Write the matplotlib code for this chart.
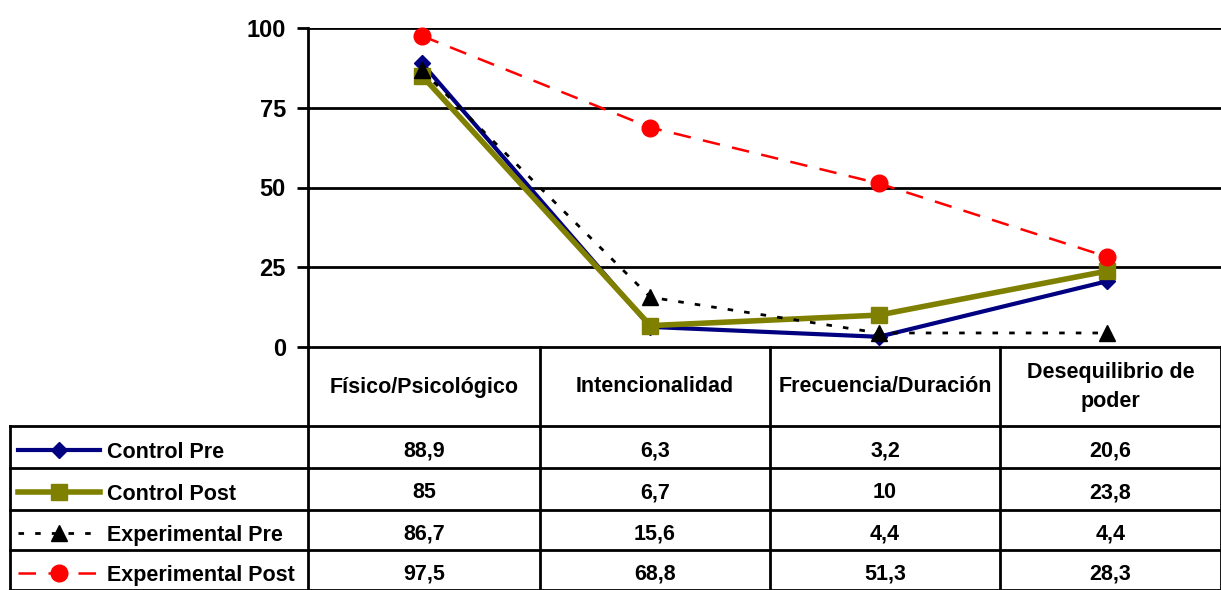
import matplotlib
matplotlib.use("Agg")
import matplotlib.pyplot as plt
from matplotlib.lines import Line2D

plt.rcParams['font.family'] = ['Liberation Sans', 'DejaVu Sans']
plt.rcParams['font.weight'] = 'bold'

categories = ["Físico/Psicológico", "Intencionalidad", "Frecuencia/Duración", "Desequilibrio de\npoder"]
series_names = ["Control Pre", "Control Post", "Experimental Pre", "Experimental Post"]
control_pre = [88.9, 6.3, 3.2, 20.6]
control_post = [85, 6.7, 10, 23.8]
experimental_pre = [86.7, 15.6, 4.4, 4.4]
experimental_post = [97.5, 68.8, 51.3, 28.3]
value_labels = [
    ["88,9", "6,3", "3,2", "20,6"],
    ["85", "6,7", "10", "23,8"],
    ["86,7", "15,6", "4,4", "4,4"],
    ["97,5", "68,8", "51,3", "28,3"],
]
yticks = [0, 25, 50, 75, 100]

styles = [
    dict(color="#000080", lw=3, ls="-", marker="D", ms=8),
    dict(color="#808000", lw=4, ls="-", marker="s", ms=12),
    dict(color="black", lw=2, ls=(0, (2, 4)), marker="^", ms=12),
    dict(color="#ff0000", lw=1.8, ls=(0, (7, 5)), marker="o", ms=12),
]

W, H = 1221, 590
fig = plt.figure(figsize=(W / 100, H / 100), dpi=100)

ax_left, ax_right = 308, 1221
ax_top, ax_bot = 28, 347
ax = fig.add_axes([ax_left / W, 1 - ax_bot / H, (ax_right - ax_left) / W, (ax_bot - ax_top) / H])
ax.set_xlim(-0.5, 3.5)
ax.set_ylim(0, 100)
x = list(range(len(categories)))
data = [control_pre, control_post, experimental_pre, experimental_post]
for vals, st in zip(data, styles):
    ax.plot(x, vals, color=st["color"], lw=st["lw"], ls=st["ls"], marker=st["marker"],
            ms=st["ms"], mfc=st["color"], mec=st["color"], clip_on=False, zorder=3)
ax.set_yticks(yticks)
ax.set_yticklabels([str(t) for t in yticks], fontsize=17, fontweight="bold")
ax.set_xticks([])
for t in yticks[1:]:
    ax.axhline(t, color="black", lw=2, zorder=1)
for s in ["top", "right"]:
    ax.spines[s].set_visible(False)
ax.spines["left"].set_linewidth(2)
ax.spines["bottom"].set_linewidth(2)
ax.tick_params(axis="y", length=8, width=2, pad=8)

def fx(px):
    return px / W

def fy(py):
    return 1 - py / H

col_edges = [308, 540, 770, 1000, 1221]
row_edges = [347, 426, 468, 510, 550, 590]
lw = 2
for cx in col_edges:
    fig.add_artist(Line2D([fx(cx), fx(cx)], [fy(347), fy(590)], color="black", lw=lw))
fig.add_artist(Line2D([fx(10), fx(10)], [fy(426), fy(590)], color="black", lw=lw))
for ry in row_edges[1:]:
    fig.add_artist(Line2D([fx(10), fx(1221)], [fy(ry), fy(ry)], color="black", lw=lw))

fs = 15.5
for i, c in enumerate(categories):
    cx = (col_edges[i] + col_edges[i + 1]) / 2
    fig.text(fx(cx), fy(387), c, ha="center", va="center", fontsize=fs, fontweight="bold",
             linespacing=1.55)

for r in range(4):
    cy = (row_edges[r + 1] + row_edges[r + 2]) / 2 + 3
    st = styles[r]
    fig.add_artist(Line2D([fx(18), fx(100)], [fy(cy), fy(cy)], color=st["color"], lw=st["lw"],
                          ls=st["ls"]))
    fig.add_artist(Line2D([fx(59)], [fy(cy)], color=st["color"], marker=st["marker"],
                          ms=st["ms"], mfc=st["color"], mec=st["color"], ls="none"))
    fig.text(fx(107), fy(cy + 2), series_names[r], ha="left", va="center", fontsize=fs,
             fontweight="bold")
    for i in range(4):
        cx = (col_edges[i] + col_edges[i + 1]) / 2
        fig.text(fx(cx), fy(cy + 1), value_labels[r][i], ha="center", va="center", fontsize=fs,
                 fontweight="bold")

fig.savefig("out.png", dpi=100)
